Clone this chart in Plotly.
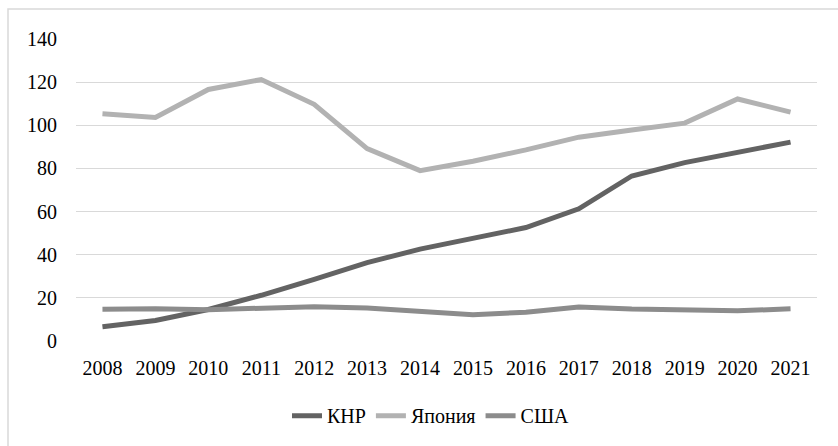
import plotly.graph_objects as go

years = ["2008", "2009", "2010", "2011", "2012", "2013", "2014",
         "2015", "2016", "2017", "2018", "2019", "2020", "2021"]
china = [6.6, 9.5, 14.6, 21.2, 28.6, 36.3, 42.6, 47.6, 52.6, 61.3, 76.5, 82.7, 87.3, 92.2]
japan = [105.3, 103.6, 116.6, 121.2, 109.7, 89.2, 79.0, 83.3, 88.6, 94.5, 97.8, 101.0, 112.2, 106.1]
usa = [14.7, 14.9, 14.5, 15.4, 15.9, 15.3, 13.8, 12.2, 13.3, 15.8, 14.8, 14.4, 14.0, 14.9]

y_ticks = [0, 20, 40, 60, 80, 100, 120, 140]

FONT = "Liberation Serif"

fig = go.Figure()
fig.add_trace(go.Scatter(x=years, y=china, name="КНР", mode="lines",
                         line=dict(color="#636363", width=5)))
fig.add_trace(go.Scatter(x=years, y=japan, name="Япония", mode="lines",
                         line=dict(color="#b2b2b2", width=5)))
fig.add_trace(go.Scatter(x=years, y=usa, name="США", mode="lines",
                         line=dict(color="#8c8c8c", width=5)))

fig.update_layout(
    width=838, height=446,
    margin=dict(l=76, r=21, t=39, b=104),
    paper_bgcolor="white", plot_bgcolor="white",
    font=dict(family=FONT, size=20, color="black"),
    showlegend=True,
    legend=dict(orientation="h", x=(431 - 76) / 741, xanchor="center", y=-0.243, yanchor="middle",
                font=dict(family=FONT, size=20, color="black"), itemwidth=30,
                traceorder="normal"),
    xaxis=dict(type="category", showgrid=False, zeroline=False, showline=False,
               ticks="outside", ticklen=9, tickcolor="rgba(0,0,0,0)",
               range=[-0.5, 13.5], fixedrange=True),
    yaxis=dict(range=[0, 140], tickvals=y_ticks, showgrid=True, gridcolor="#d9d9d9",
               gridwidth=1.3, zeroline=False, showline=False,
               ticks="outside", ticklen=14, tickcolor="rgba(0,0,0,0)"),
    shapes=[dict(type="rect", xref="paper", yref="paper",
                 x0=(8 - 76) / 741, x1=(860 - 76) / 741,
                 y0=(303 - 470) / 303, y1=(303 + 30) / 303,
                 line=dict(color="#d9d9d9", width=1.5), fillcolor="rgba(0,0,0,0)",
                 layer="below")],
)

fig.write_html("out.html", config={"displayModeBar": False},
               post_script="document.body.style.margin='0';")
